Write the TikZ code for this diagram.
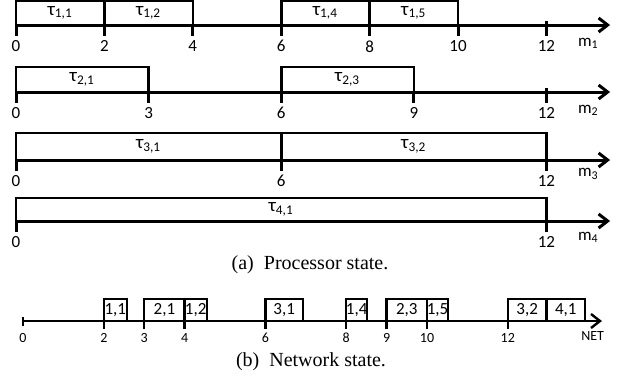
\documentclass[tikz,border=0pt]{standalone}
\usepackage{fontspec}
\setmainfont{Liberation Serif}
\newfontfamily\labelfont{Carlito}
\usetikzlibrary{arrows.meta}
\tikzset{
    taskbox/.style = {draw=black, line width=1.3pt},
    msgbox/.style = {draw=black, line width=1.2pt},
    axis/.style = {line width=1.5pt, -{Straight Barb[length=4.5pt, width=7pt]}},
    tick/.style = {line width=1.5pt},
    ticklabel/.style = {font=\labelfont\fontsize{8.5}{9}\selectfont, inner sep=0pt},
    tasklabel/.style = {font=\labelfont\fontsize{9.5}{10}\selectfont, inner sep=0pt},
    msglabel/.style = {font=\labelfont\fontsize{8.5}{9}\selectfont, inner sep=0pt},
    netlabel/.style = {font=\labelfont\fontsize{7}{8}\selectfont, inner sep=0pt},
    caption/.style = {font=\fontsize{10}{12}\selectfont, inner sep=0pt}
}

\begin{document}
\begin{tikzpicture}[x=0.5pt, y=-0.5pt]
\useasboundingbox (0,0) rectangle (619,387);

% Processor state
\begin{scope}[shift={(16,0)}, x=22.1pt]
% m1
\draw[taskbox] (0,1) rectangle node[tasklabel] (t11) {τ\textsubscript{1,1}} (2,25);
\draw[taskbox] (2,1) rectangle node[tasklabel] (t12) {τ\textsubscript{1,2}} (4,25);
\draw[taskbox] (6,1) rectangle node[tasklabel] (t14) {τ\textsubscript{1,4}} (8,25);
\draw[taskbox] (8,1) rectangle node[tasklabel] (t15) {τ\textsubscript{1,5}} (10,25);
\coordinate (m1s) at (0,25);
\coordinate (m1e) at (13.44,25);
\draw[axis] (m1s) -- (m1e);
\foreach \t in {0,2,4,6,8,10}
    \draw[tick] (\t,25) -- (\t,36) node[ticklabel, below=1.5pt] {\t};
\draw[tick] (12,21) -- (12,36) node[ticklabel, below=1.5pt] {12};
\node[ticklabel] (m1) at (12.95,43) {m\textsubscript{1}};

% m2
\draw[taskbox] (0,67) rectangle node[tasklabel] (t21) {τ\textsubscript{2,1}} (3,92);
\draw[taskbox] (6,67) rectangle node[tasklabel] (t23) {τ\textsubscript{2,3}} (9,92);
\coordinate (m2s) at (0,92);
\coordinate (m2e) at (13.44,92);
\draw[axis] (m2s) -- (m2e);
\foreach \t in {0,3,6,9}
    \draw[tick] (\t,92) -- (\t,103) node[ticklabel, below=1.5pt] {\t};
\draw[tick] (12,88) -- (12,103) node[ticklabel, below=1.5pt] {12};
\node[ticklabel] (m2) at (12.95,110) {m\textsubscript{2}};

% m3
\draw[taskbox] (0,133) rectangle node[tasklabel] (t31) {τ\textsubscript{3,1}} (6,160);
\draw[taskbox] (6,133) rectangle node[tasklabel] (t32) {τ\textsubscript{3,2}} (12,160);
\coordinate (m3s) at (0,160);
\coordinate (m3e) at (13.44,160);
\draw[axis] (m3s) -- (m3e);
\foreach \t in {0,6,12}
    \draw[tick] (\t,160) -- (\t,171) node[ticklabel, below=1.5pt] {\t};
\node[ticklabel] (m3) at (12.95,174) {m\textsubscript{3}};

% m4
\draw[taskbox] (0,198) rectangle node[tasklabel] (t41) {τ\textsubscript{4,1}} (12,221);
\coordinate (m4s) at (0,221);
\coordinate (m4e) at (13.44,221);
\draw[axis] (m4s) -- (m4e);
\foreach \t in {0,12}
    \draw[tick] (\t,221) -- (\t,232) node[ticklabel, below=1.5pt] {\t};
\node[ticklabel] (m4) at (12.95,237) {m\textsubscript{4}};
\end{scope}

\node[caption] (capa) at (310,265) {(a)\ \ Processor state.};

% Network state
\begin{scope}[shift={(23,0)}, x=20.2pt]
\draw[msgbox] (2,299) rectangle node[msglabel] (n11) {1,1} (2.57,321);
\draw[msgbox] (3,299) rectangle node[msglabel] (n21) {2,1} (4,321);
\draw[msgbox] (4,299) rectangle node[msglabel] (n12) {1,2} (4.55,321);
\draw[msgbox] (6,299) rectangle node[msglabel] (n31) {3,1} (6.93,321);
\draw[msgbox] (8,299) rectangle node[msglabel] (n14) {1,4} (8.52,321);
\draw[msgbox] (9,299) rectangle node[msglabel] (n23) {2,3} (10,321);
\draw[msgbox] (10,299) rectangle node[msglabel] (n15) {1,5} (10.52,321);
\draw[msgbox] (12,299) rectangle node[msglabel] (n32) {3,2} (12.96,321);
\draw[msgbox] (12.96,299) rectangle node[msglabel] (n41) {4,1} (13.91,321);
\coordinate (nets) at (0,321);
\coordinate (nete) at (14.33,321);
\draw[axis, line width=1.2pt] (nets) -- (nete);
\draw[tick, line width=1.2pt] (0,317) -- (0,326) node[netlabel, below=3pt] {0};
\foreach \t in {2,3,4,6,8,9,10,12}
    \draw[tick, line width=1.2pt] (\t,321) -- (\t,329) node[netlabel, below=1.5pt] {\t};
\node[netlabel] (net) at (14.1,336) {NET};
\end{scope}

\node[caption] (capb) at (311,362) {(b)\ \ Network state.};

\end{tikzpicture}
\end{document}
